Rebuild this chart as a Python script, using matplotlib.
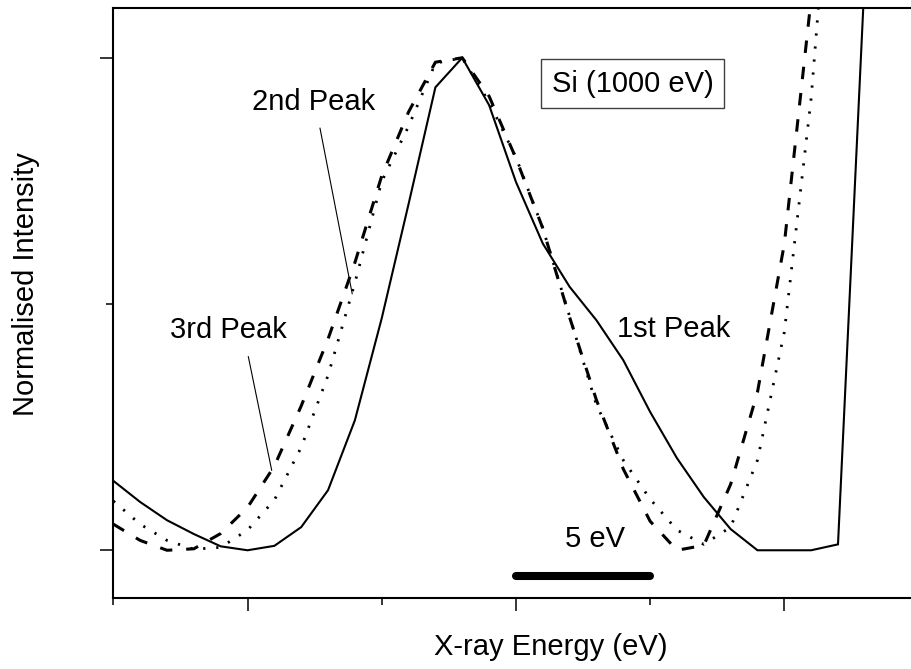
import numpy as np
import matplotlib
matplotlib.use('Agg')
import matplotlib.pyplot as plt

plt.rcParams['font.family'] = ['Liberation Sans', 'DejaVu Sans']
plt.rcParams['lines.scale_dashes'] = False

# energy grid (eV, 1 eV steps) and normalised spectra
energy = np.arange(29)
peak1 = [0.141, 0.098, 0.061, 0.033, 0.008, 0.0, 0.009, 0.047, 0.122, 0.264,
         0.471, 0.703, 0.940, 1.0, 0.904, 0.748, 0.623, 0.535, 0.467, 0.386,
         0.281, 0.187, 0.108, 0.043, 0.0, 0.0, 0.0, 0.012, 1.17]
peak2 = [0.100, 0.053, 0.020, 0.002, 0.006, 0.041, 0.102, 0.209, 0.355, 0.543,
         0.749, 0.861, 0.989, 1.0, 0.910, 0.798, 0.654, 0.475, 0.295, 0.183,
         0.104, 0.041, 0.012, 0.047, 0.183, 0.443, 0.918, 1.6, 1.9]
peak3 = [0.053, 0.020, 0.0, 0.003, 0.034, 0.087, 0.171, 0.293, 0.429, 0.584,
         0.760, 0.890, 0.991, 1.0, 0.922, 0.796, 0.654, 0.473, 0.305, 0.165,
         0.059, 0.0, 0.010, 0.134, 0.321, 0.622, 1.12, 1.6, 1.9]

scale_bar = [15, 20]   # 5 eV marker
bar_level = -0.052

fig = plt.figure(figsize=(9.11, 6.69), dpi=100)
ax = fig.add_axes([0.1244, 0.1057, 0.8756, 0.8823])

ax.plot(energy, peak1, color='k', lw=1.5, solid_joinstyle='miter')
ax.plot(energy, peak2, color='k', lw=2.0, dashes=(1.6, 7.8))
ax.plot(energy, peak3, color='k', lw=2.2, dashes=(9.0, 10.0))

ax.plot(scale_bar, [bar_level, bar_level], color='k', lw=5.8,
        solid_capstyle='round')
ax.text(16.83, 0.007, '5 eV', fontsize=21, ha='left', va='baseline')

ax.text(18.76, 0.433, '1st Peak', fontsize=21, ha='left', va='baseline')
ax.text(5.16, 0.894, '2nd Peak', fontsize=21, ha='left', va='baseline')
ax.text(2.11, 0.431, '3rd Peak', fontsize=21, ha='left', va='baseline')
ax.plot([7.70, 8.90], [0.857, 0.521], color='k', lw=0.8)
ax.plot([5.03, 5.90], [0.393, 0.1625], color='k', lw=0.8)

ax.text(16.33, 0.931, 'Si (1000 eV)', fontsize=21, ha='left', va='baseline',
        bbox=dict(boxstyle='square,pad=0.36', fc='white', ec='0.25', lw=1.0))

ax.set_xlim(0, 29.72)
ax.set_ylim(-0.0975, 1.101)

ax.set_xticks([5, 15, 25])
ax.set_xticks([0, 10, 20], minor=True)
ax.set_yticks([0, 1])
ax.set_yticks([0.5], minor=True)
ax.tick_params(which='both', direction='out', labelbottom=False, labelleft=False,
               width=1.1, color='k')
ax.tick_params(which='major', length=9.4)
ax.tick_params(which='minor', length=4.7)

for side in ['left', 'bottom', 'top']:
    ax.spines[side].set_linewidth(1.5)
ax.spines['right'].set_visible(False)

fig.text(551 / 911, 1 - 655 / 669, 'X-ray Energy (eV)', fontsize=21,
         ha='center', va='baseline')
fig.text(26 / 911, 1 - 284 / 669, 'Normalised Intensity', fontsize=21,
         ha='center', va='center', rotation=90)

fig.savefig('out.png', dpi=100)
